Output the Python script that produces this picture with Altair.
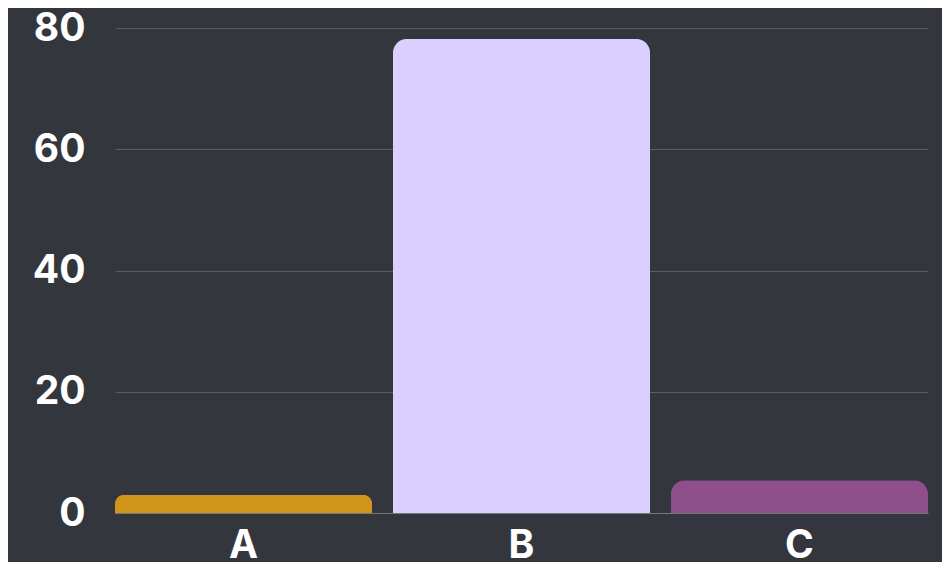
import altair as alt
import pandas as pd

categories = ["A", "B", "C"]
values = [3, 78.2, 5.4]
colors = ["#CF9419", "#DACFFE", "#8F4F8A"]

df = pd.DataFrame({"cat": categories, "val": values})

chart = alt.Chart(df).mark_bar(
    cornerRadiusTopLeft=14, cornerRadiusTopRight=14
).encode(
    x=alt.X("cat:N", sort=categories, title=None,
            scale=alt.Scale(paddingInner=0.075, paddingOuter=0),
            axis=alt.Axis(labelAngle=0, labelFont="Inter", labelFontWeight="bold",
                          labelFontSize=39, labelColor="#FFFFFF", labelPadding=13,
                          ticks=False, domain=True, domainColor="#777777", domainWidth=1,
                          grid=False)),
    y=alt.Y("val:Q", title=None,
            scale=alt.Scale(domain=[0, 80], nice=False),
            axis=alt.Axis(values=[0, 20, 40, 60, 80], labelFont="Inter", labelFontWeight="bold",
                          labelFontSize=39, labelColor="#FFFFFF", labelPadding=30,
                          ticks=False, domain=False, grid=True, gridColor="#5A5D63",
                          gridWidth=1)),
    color=alt.Color("cat:N", scale=alt.Scale(domain=categories, range=colors), legend=None),
).properties(
    width=813, height=485,
    background="#33363D",
    padding={"left": 107, "top": 20, "right": 14, "bottom": 49},
    autosize="none",
).configure_view(stroke=None)

chart.save("out.html", embed_options={"renderer": "svg", "actions": False})
